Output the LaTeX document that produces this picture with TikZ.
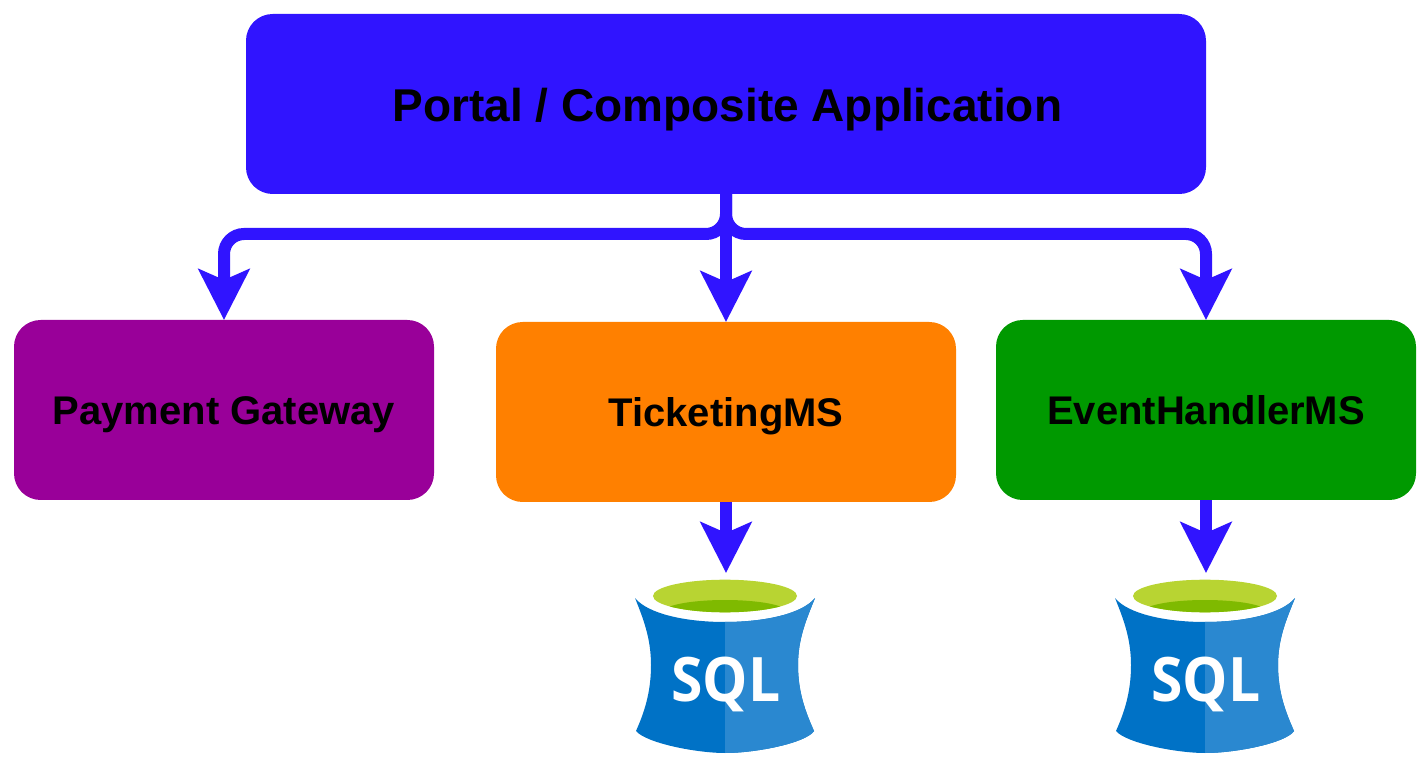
\documentclass[tikz,border=0pt]{standalone}
\usepackage{fontspec}
\setmainfont{Liberation Sans}
\newfontfamily\sqlfont[FakeStretch=0.93]{Open Sans}
\usetikzlibrary{arrows.meta}
\definecolor{linkblue}{HTML}{3014FF}
\definecolor{paypurple}{HTML}{990099}
\definecolor{ticketorange}{HTML}{FF8000}
\definecolor{eventgreen}{HTML}{009900}
\definecolor{dbdark}{HTML}{0072C6}
\definecolor{dblight}{HTML}{2A88D0}
\definecolor{dblime}{HTML}{B8D432}
\definecolor{dbgreen}{HTML}{7FBA00}
\newcommand{\dbbody}{(-91,-65) .. controls (-78,-49) and (-40,-41) .. (-1,-41)
   .. controls (38,-41) and (76,-49) .. (89,-65)
   .. controls (81,-45) and (72,-25) .. (72,2) .. controls (72,30) and (80,50) .. (88,68)
   .. controls (80,80) and (30,90) .. (-1,90) .. controls (-30,90) and (-80,80) .. (-90,68)
   .. controls (-82,50) and (-75,30) .. (-75,2) .. controls (-75,-25) and (-83,-45) .. (-91,-65) -- cycle}
\tikzset{
   box/.style={text=black,rounded corners=20pt,minimum height=135pt,inner sep=0pt,outer sep=0pt,
      text height=22pt,text depth=0pt,font=\bfseries\fontsize{30}{30}\selectfont},
   link/.style={draw=linkblue,line width=9pt,rounded corners=15pt,
      -{Stealth[length=38pt,width=38pt,inset=8pt]}},
   dbslot/.style={minimum width=135pt,minimum height=135pt,inner sep=0pt,outer sep=0pt},
   sqlicon/.pic={
      \fill[dbdark] \dbbody;
      \begin{scope}
         \clip (-1,-90) rectangle (100,100);
         \fill[dblight] \dbbody;
      \end{scope}
      \fill[dblime] (-1,-67) ellipse[x radius=72,y radius=16.3];
      \begin{scope}
         \clip (-1,-67) ellipse[x radius=72,y radius=16.3];
         \fill[dbgreen] (-1,-51) ellipse[x radius=62,y radius=12];
      \end{scope}
      \node[text=white,inner sep=0pt,font=\sqlfont\bfseries\fontsize{46}{46}\selectfont] at (0,21) {SQL};
   }
}
\begin{document}
\begin{tikzpicture}[x=0.75pt,y=-0.75pt]
   \useasboundingbox (0,0) rectangle (1428,762);
   % boxes
   \node[box,fill=linkblue,minimum width=720pt,text height=26.5pt,font=\bfseries\fontsize{34.5}{34.5}\selectfont] (portal) at (726,104) {\hspace{2pt}Portal / Composite Application};
   \node[box,fill=paypurple,minimum width=315pt] (payment) at (224,410) {Payment Gateway};
   \node[box,fill=ticketorange,minimum width=345pt] (ticketing) at (726,412) {TicketingMS};
   \node[box,fill=eventgreen,minimum width=315pt] (eventhandler) at (1206,410) {EventHandlerMS};
   % databases
   \node[dbslot] (ticketdb) at (726,663) {};
   \node[dbslot] (eventdb) at (1206,663) {};
   \pic at (ticketdb.center) {sqlicon};
   \pic at (eventdb.center) {sqlicon};
   % links
   \draw[link] (portal.south) |- (726,234) -| (payment.north);
   \draw[link] (portal.south) |- (726,234) -| (eventhandler.north);
   \draw[link] (portal.south) -- (ticketing.north);
   \draw[link] (ticketing.south) -- (ticketdb.north);
   \draw[link] (eventhandler.south) -- (eventdb.north);
\end{tikzpicture}
\end{document}
